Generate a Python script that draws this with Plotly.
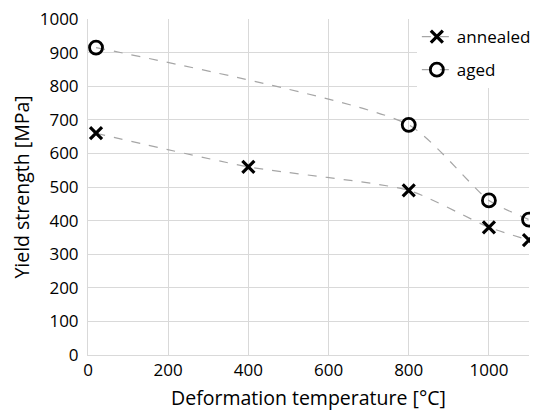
import plotly.graph_objects as go

# Values
temp_annealed = [20, 400, 800, 1000, 1100]
ys_annealed = [660, 560, 490, 380, 342]
temp_aged = [20, 800, 1000, 1100]
ys_aged = [915, 685, 460, 403]

x_ticks = [0, 200, 400, 600, 800, 1000]
y_ticks = [0, 100, 200, 300, 400, 500, 600, 700, 800, 900, 1000]

fig = go.Figure()

# Annealed series
fig.add_trace(go.Scatter(x=temp_annealed, y=ys_annealed, name='annealed',
                         mode='lines+markers', legendgroup='a', cliponaxis=False,
                         line=dict(color='#a6a6a6', width=1.2, dash='dash', shape='spline', smoothing=0.6),
                         marker=dict(symbol='x-thin', size=12, color='black',
                                     line=dict(color='black', width=3.2))))

# Aged series
fig.add_trace(go.Scatter(x=temp_aged, y=ys_aged, name='aged',
                         mode='lines+markers', legendgroup='b', cliponaxis=False,
                         line=dict(color='#a6a6a6', width=1.2, dash='dash', shape='spline', smoothing=0.6),
                         marker=dict(symbol='circle-open', size=13, color='black',
                                     line=dict(color='black', width=2.8))))

# page body adds an 8px margin; extra right margin leaves room for the legend box
# so plotly doesn't shrink the plot area to fit it
fig.update_layout(width=538, height=408,
                  margin=dict(l=80, r=16, t=11, b=61),
                  paper_bgcolor='white', plot_bgcolor='white',
                  font=dict(family='Open Sans, Liberation Sans, sans-serif', size=17, color='black'),
                  showlegend=True,
                  legend=dict(x=0.744, y=1.0, xanchor='left', yanchor='top',
                              bgcolor='white', font=dict(size=17),
                              itemwidth=30, tracegroupgap=8, traceorder='grouped'))

fig.update_xaxes(range=[0, 1100], tickvals=x_ticks, showgrid=True,
                 gridcolor='#d9d9d9', gridwidth=1, zeroline=False,
                 showline=True, linecolor='#d9d9d9', linewidth=1,
                 ticks='', tickfont=dict(size=17), automargin=False,
                 ticklabeloverflow='allow',
                 title=dict(text='Deformation temperature [°C]', font=dict(size=19.5), standoff=10))

fig.update_yaxes(range=[0, 1000], tickvals=y_ticks, showgrid=True,
                 gridcolor='#d9d9d9', gridwidth=1, zeroline=False,
                 showline=True, linecolor='#d9d9d9', linewidth=1,
                 ticks='', tickfont=dict(size=17), automargin=False,
                 ticklabeloverflow='allow', ticklabelstandoff=5,
                 title=dict(text='Yield strength [MPa]', font=dict(size=19.5), standoff=12))

fig.write_html("out.html")
